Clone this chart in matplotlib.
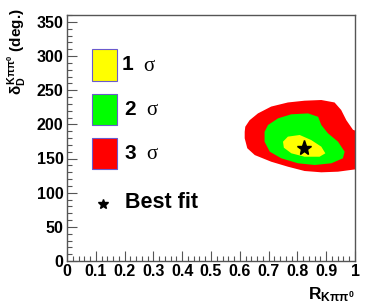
import matplotlib
matplotlib.use('Agg')
import matplotlib.pyplot as plt
from matplotlib.patches import Rectangle
from matplotlib.ticker import MultipleLocator

plt.rcParams['font.family'] = ['Liberation Sans', 'DejaVu Sans']
plt.rcParams['font.weight'] = 'bold'
plt.rcParams['mathtext.fontset'] = 'custom'
plt.rcParams['mathtext.rm'] = 'Liberation Sans:bold'
plt.rcParams['mathtext.bf'] = 'Liberation Sans:bold'
plt.rcParams['mathtext.it'] = 'Liberation Sans:bold'

# contour boundaries (R, delta_D in deg.)
sig3_R = [0.617, 0.619, 0.634, 0.663, 0.709, 0.767, 0.825, 0.883, 0.929, 0.952,
          0.970, 0.993, 1.02, 1.02, 0.999, 0.941, 0.883, 0.825, 0.767, 0.709,
          0.652, 0.626, 0.617]
sig3_d = [189, 196.5, 206, 216, 226, 232, 234.6, 235.6, 232, 221,
          206, 192, 188, 132, 134, 130.7, 129.8, 131.7, 138, 145.3,
          155, 165, 179.6]

sig2_R = [0.686, 0.698, 0.733, 0.779, 0.837, 0.872, 0.883, 0.906, 0.941, 0.964,
          0.958, 0.918, 0.860, 0.802, 0.744, 0.704, 0.686]
sig2_d = [189, 199, 208.8, 214.7, 216, 211, 199, 186.9, 174.6, 160,
          150.3, 143, 140.5, 143, 150.3, 160, 174.6]

sig1_R = [0.750, 0.767, 0.808, 0.848, 0.883, 0.897, 0.877, 0.825, 0.779, 0.753]
sig1_d = [174.6, 182, 184.4, 177, 167.3, 157.6, 152.6, 152.6, 157.6, 165.8]

best_R = [0.822]
best_d = [165]

legend_labels = ['1', '2', '3']
legend_colors = ['#ffff00', '#00ff00', '#ff0000']

fig = plt.figure(figsize=(3.74, 3.07), dpi=100)
ax = fig.add_axes([67 / 374, 1 - 261 / 307, 288 / 374, 246 / 307])

ax.fill(sig3_R, sig3_d, color='#ff0000', lw=0)
ax.fill(sig2_R, sig2_d, color='#00ff00', lw=0)
ax.fill(sig1_R, sig1_d, color='#ffff00', lw=0)
ax.plot(best_R, best_d, marker='*', color='black', ms=11, ls='none')

ax.set_xlim(0, 1)
ax.set_ylim(0, 360)
ax.xaxis.set_major_locator(MultipleLocator(0.1))
ax.xaxis.set_minor_locator(MultipleLocator(0.02))
ax.yaxis.set_major_locator(MultipleLocator(50))
ax.yaxis.set_minor_locator(MultipleLocator(10))
ax.set_xticks([0, 0.1, 0.2, 0.3, 0.4, 0.5, 0.6, 0.7, 0.8, 0.9, 1.0])
ax.set_xticklabels(['0', '0.1', '0.2', '0.3', '0.4', '0.5', '0.6', '0.7', '0.8', '0.9', '1'])
ax.tick_params(which='both', direction='in', top=False, right=False,
               labelsize=11.5, color='#555555', width=0.8)
ax.tick_params(which='major', length=7, pad=2.5)
ax.tick_params(which='minor', length=3.5)
for sp in ax.spines.values():
    sp.set_color('#555555')
    sp.set_linewidth(1)
for lab in ax.get_xticklabels() + ax.get_yticklabels():
    lab.set_fontweight('bold')

# legend drawn by hand, like the ROOT one
box_y = [0.733, 0.553, 0.373]
for lbl, c, y0 in zip(legend_labels, legend_colors, box_y):
    ax.add_patch(Rectangle((0.086, y0), 0.089, 0.127, transform=ax.transAxes,
                           facecolor=c, edgecolor='#6a5acd', lw=0.8))
    yc = y0 + 0.064
    xd = 0.190 if lbl == '1' else 0.200
    ax.text(xd, yc, lbl, transform=ax.transAxes, fontsize=15, fontweight='bold',
            va='center', ha='left')
    ax.text(xd + 0.075, yc - 0.005, '\u03c3', transform=ax.transAxes, fontsize=15,
            family='Liberation Serif', fontweight='normal', va='center', ha='left')
ax.plot([0.126], [0.230], marker='*', color='black', ms=7, ls='none',
        transform=ax.transAxes)
ax.text(0.201, 0.236, 'Best fit', transform=ax.transAxes, fontsize=15.5,
        fontweight='bold', va='center', ha='left')

fig.text(355 / 374, 1 - 304 / 307, r'$\mathbf{R}_{\mathbf{K}\pi\pi^{0}}$',
         fontsize=12.5, ha='right', va='bottom')
fig.text(17 / 374, 1 - 8 / 307, r'$\delta_{\mathbf{D}}^{\mathbf{K}\pi\pi^{0}}$ (deg.)',
         fontsize=11, rotation=90, ha='center', va='top', fontweight='bold')

fig.savefig('out.png', dpi=100)
